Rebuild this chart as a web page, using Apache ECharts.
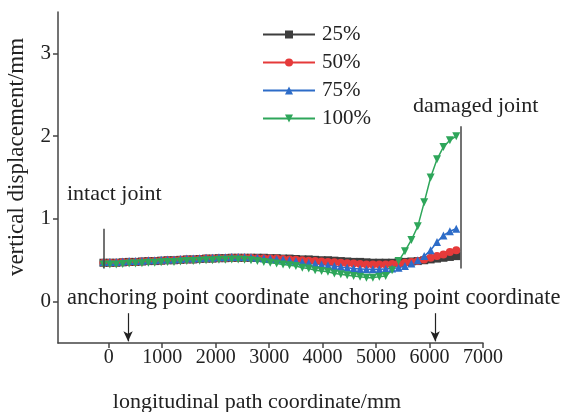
<!DOCTYPE html>
<html>
<head>
<meta charset="utf-8">
<script src="https://cdn.jsdelivr.net/npm/echarts@6/dist/echarts.min.js"></script>
<style>
	html, body { margin: 0; padding: 0; background: #fff; }
	#chart { width: 572px; height: 412px; }
</style>
</head>
<body>
<div id="chart"></div>
<script>
	// path coordinate (mm) of every sampled point
	var pathX = [-100, 20, 140, 260, 380, 500, 620, 740, 860, 980, 1100, 1220, 1340, 1460, 1580, 1700, 1820, 1940,
		2060, 2180, 2300, 2420, 2540, 2660, 2780, 2900, 3020, 3140, 3260, 3380, 3500, 3620, 3740, 3860, 3980,
		4100, 4220, 4340, 4460, 4580, 4700, 4820, 4940, 5060, 5180, 5300, 5420, 5540, 5660, 5780, 5900, 6020,
		6140, 6260, 6380, 6500];

	// vertical displacement (mm)
	var disp25 = [0.47, 0.47, 0.47, 0.475, 0.48, 0.48, 0.485, 0.49, 0.49, 0.495, 0.50, 0.50, 0.505, 0.51, 0.51, 0.515, 0.52, 0.52,
		0.525, 0.525, 0.53, 0.53, 0.53, 0.53, 0.53, 0.53, 0.525, 0.525, 0.52, 0.52, 0.515, 0.51, 0.51, 0.505, 0.50,
		0.50, 0.495, 0.49, 0.485, 0.48, 0.48, 0.475, 0.47, 0.47, 0.47, 0.47, 0.475, 0.48, 0.485, 0.49, 0.50, 0.51,
		0.52, 0.53, 0.54, 0.55];
	var disp50 = [0.47, 0.47, 0.47, 0.475, 0.48, 0.48, 0.485, 0.49, 0.49, 0.495, 0.50, 0.50, 0.505, 0.51, 0.51, 0.515, 0.52, 0.52,
		0.525, 0.525, 0.53, 0.53, 0.53, 0.53, 0.525, 0.525, 0.52, 0.52, 0.515, 0.51, 0.505, 0.50, 0.495, 0.49, 0.485,
		0.48, 0.475, 0.47, 0.465, 0.46, 0.455, 0.45, 0.45, 0.45, 0.45, 0.455, 0.46, 0.47, 0.48, 0.49, 0.51, 0.53,
		0.55, 0.57, 0.60, 0.62];
	var disp75 = [0.48, 0.48, 0.48, 0.485, 0.49, 0.49, 0.495, 0.50, 0.50, 0.505, 0.51, 0.51, 0.515, 0.52, 0.52, 0.525, 0.53, 0.53,
		0.535, 0.535, 0.54, 0.54, 0.54, 0.535, 0.53, 0.525, 0.52, 0.515, 0.51, 0.50, 0.49, 0.48, 0.47, 0.46, 0.45,
		0.44, 0.43, 0.42, 0.41, 0.40, 0.395, 0.39, 0.39, 0.39, 0.395, 0.40, 0.41, 0.43, 0.46, 0.50, 0.55, 0.62,
		0.72, 0.80, 0.85, 0.88];
	var disp100 = [0.45, 0.45, 0.45, 0.455, 0.46, 0.46, 0.465, 0.47, 0.47, 0.475, 0.48, 0.48, 0.485, 0.49, 0.49, 0.495, 0.50, 0.50,
		0.505, 0.505, 0.51, 0.51, 0.505, 0.50, 0.49, 0.48, 0.47, 0.46, 0.45, 0.44, 0.43, 0.41, 0.40, 0.38, 0.37,
		0.36, 0.34, 0.33, 0.32, 0.31, 0.30, 0.29, 0.29, 0.30, 0.31, 0.38, 0.49, 0.61, 0.745, 0.91, 1.20, 1.50,
		1.72, 1.87, 1.95, 2.00];

	var seriesNames = ['25%', '50%', '75%', '100%'];
	var yTicks = [0, 1, 2, 3];
	var xTicks = [0, 1000, 2000, 3000, 4000, 5000, 6000, 7000];

	// joint boundary lines and anchoring point positions (mm)
	var intactJoint = [[-100, 0.40], [-100, 0.88]];
	var damagedJoint = [[6590, 0.40], [6590, 2.12]];
	var anchorX = [361, 6105];

	var serif = '"Liberation Serif", "DejaVu Serif", serif';
	var textColor = '#222';

	function pairs(ys) {
		var out = [];
		for (var i = 0; i < pathX.length; i++) {
			out.push([pathX[i], ys[i]]);
		}
		return out;
	}

	function makeSeries(name, ys, color, symbol, rotate) {
		return {
			name: name,
			type: 'line',
			data: pairs(ys),
			symbol: symbol,
			symbolSize: 8,
			symbolRotate: rotate || 0,
			showAllSymbol: true,
			lineStyle: { color: color, width: 1.5 },
			itemStyle: { color: color },
			emphasis: { disabled: true },
			z: 3
		};
	}

	var markLines = [
		[{ coord: intactJoint[0] }, { coord: intactJoint[1] }],
		[{ coord: damagedJoint[0] }, { coord: damagedJoint[1] }]
	];
	var arrowLines = [];
	for (var a = 0; a < anchorX.length; a++) {
		arrowLines.push([{ coord: [anchorX[a], -0.14] }, { coord: [anchorX[a], -0.48] }]);
	}

	var series = [
		makeSeries(seriesNames[0], disp25, '#3d3d3d', 'rect'),
		makeSeries(seriesNames[1], disp50, '#e53a3a', 'circle'),
		makeSeries(seriesNames[2], disp75, '#2d6cc8', 'triangle'),
		makeSeries(seriesNames[3], disp100, '#2ea65a', 'triangle', 180),
		{
			name: 'joints',
			type: 'line',
			data: [],
			markLine: {
				silent: true,
				symbol: 'none',
				label: { show: false },
				lineStyle: { color: '#444', width: 1.5, type: 'solid' },
				data: markLines
			}
		},
		{
			name: 'anchors',
			type: 'line',
			data: [],
			markLine: {
				silent: true,
				symbol: ['none', 'arrow'],
				symbolSize: [7, 10],
				label: { show: false },
				lineStyle: { color: '#222', width: 1.2, type: 'solid' },
				data: arrowLines
			}
		}
	];

	var myChart = echarts.init(document.getElementById('chart'), null, { renderer: 'canvas' });
	myChart.setOption({
		animation: false,
		backgroundColor: '#fff',
		grid: { left: 58, right: 89, top: 12, bottom: 69 },
		legend: {
			data: seriesNames,
			orient: 'vertical',
			left: 257,
			top: 19,
			itemWidth: 52,
			itemHeight: 10,
			itemGap: 7,
			textStyle: { fontFamily: serif, fontSize: 21, color: textColor, padding: [0, 0, 0, 2] }
		},
		xAxis: {
			type: 'value',
			min: -950,
			max: 7000,
			splitLine: { show: false },
			axisLine: { onZero: false, lineStyle: { color: '#444', width: 1.5 } },
			axisTick: { show: true, customValues: xTicks, length: 5, lineStyle: { color: '#444', width: 1.5 } },
			axisLabel: {
				customValues: xTicks, fontFamily: serif, fontSize: 20, color: textColor, margin: 5,
				formatter: function(v) { return String(v); }
			}
		},
		yAxis: {
			type: 'value',
			min: -0.5,
			max: 3.5,
			splitLine: { show: false },
			axisLine: { show: true, onZero: false, lineStyle: { color: '#444', width: 1.5 } },
			axisTick: { show: true, customValues: yTicks, length: 5, lineStyle: { color: '#444', width: 1.5 } },
			axisLabel: { customValues: yTicks, fontFamily: serif, fontSize: 21, color: textColor, margin: 7 }
		},
		graphic: [
			{ type: 'text', left: 67, top: 183, style: { text: 'intact joint', font: '22px ' + serif, fill: textColor } },
			{ type: 'text', left: 413, top: 95, style: { text: 'damaged joint', font: '22px ' + serif, fill: textColor } },
			{ type: 'text', left: 67, top: 287, style: { text: 'anchoring point coordinate', font: '22.5px ' + serif, fill: textColor } },
			{ type: 'text', left: 318, top: 287, style: { text: 'anchoring point coordinate', font: '22.5px ' + serif, fill: textColor } },
			{ type: 'text', x: 257, y: 402, style: { text: 'longitudinal path coordinate/mm', font: '22px ' + serif, fill: textColor, align: 'center', verticalAlign: 'middle' } },
			{ type: 'text', x: 17, y: 157, rotation: Math.PI / 2, style: { text: 'vertical displacement/mm', font: '23px ' + serif, fill: textColor, align: 'center', verticalAlign: 'middle' } }
		],
		series: series
	});
</script>
</body>
</html>
